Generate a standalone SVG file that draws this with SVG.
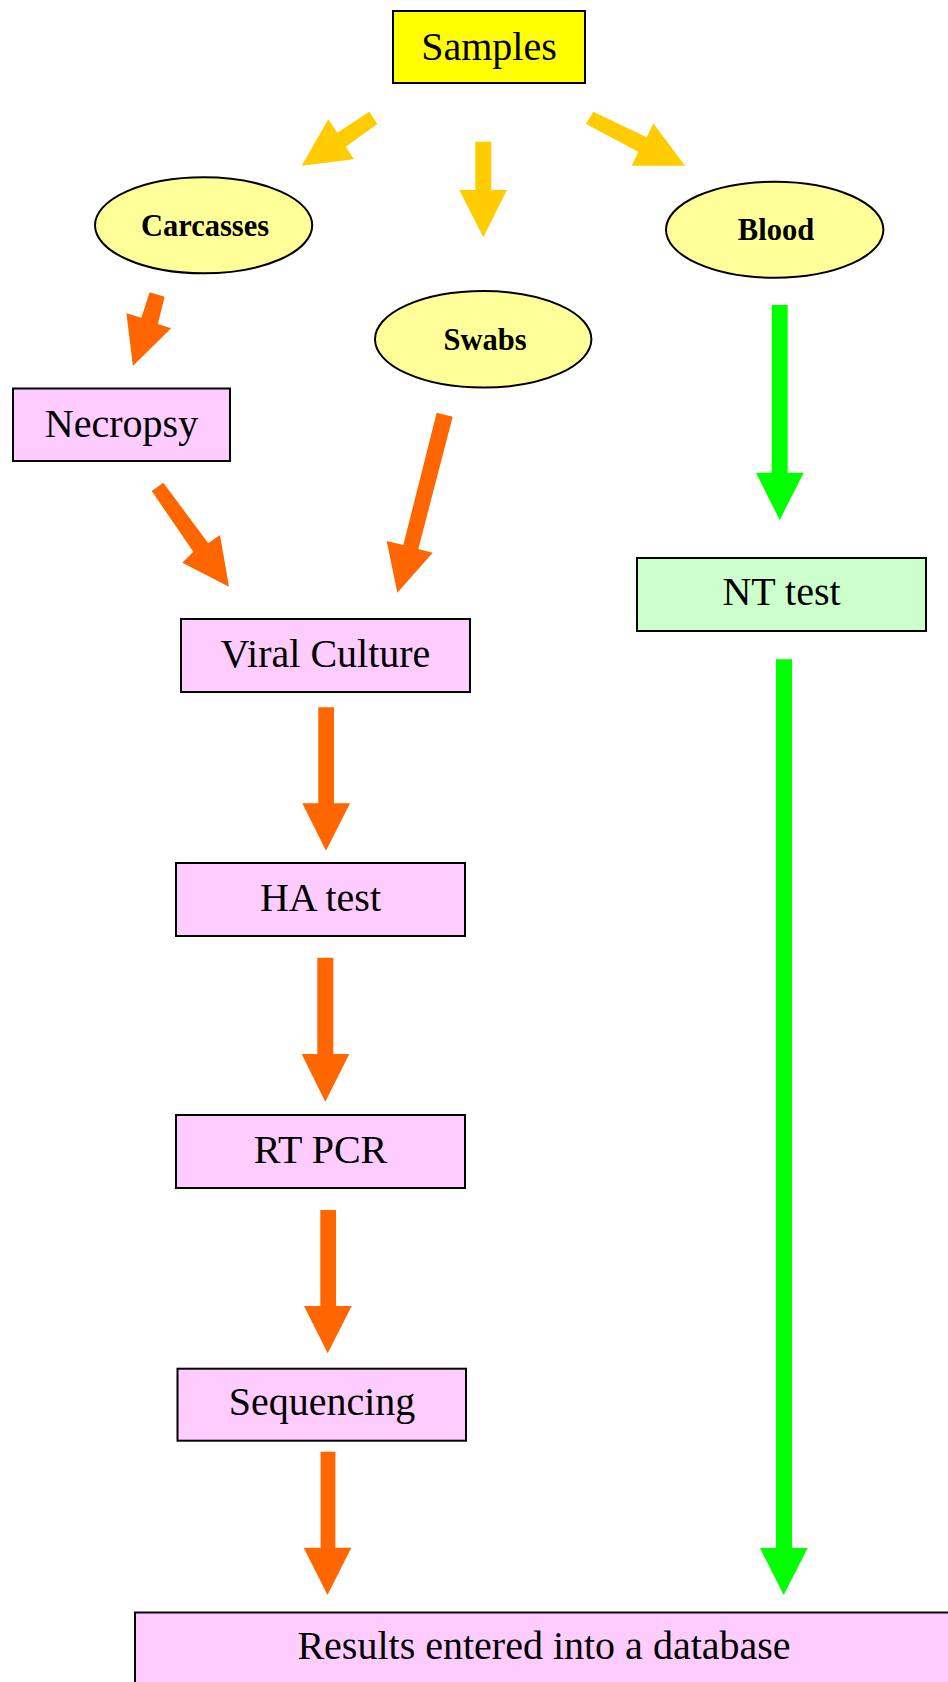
<svg xmlns="http://www.w3.org/2000/svg" width="948" height="1682" viewBox="0 0 948 1682">
  <style>
    .box { stroke: #000; stroke-width: 2; }
    .src { fill: #FFFF00; }
    .sample { fill: #FFFF99; }
    .lab { fill: #FFCCFF; }
    .sero { fill: #CCFFCC; }
    .t { font-family: "Liberation Serif", "Times New Roman", serif; font-size: 40px; fill: #000; text-anchor: middle; }
    .tb { font-family: "Liberation Serif", "Times New Roman", serif; font-size: 30.5px; font-weight: bold; fill: #000; text-anchor: middle; }
    .ay { fill: #FFCC00; }
    .ao { fill: #FF6600; }
    .ag { fill: #00FF00; }
  </style>
  <rect width="948" height="1682" fill="#FFFFFF"/>

  <!-- connectors: block arrows -->
  <g id="connectors">
    <!-- Samples to the three sample types -->
    <polygon class="ay" points="369.3,111.7 377.3,124 345.7,146.7 354,159.3 301.7,165.7 328.3,119.3 337.3,132.7"/>
    <polygon class="ay" points="475.3,141.7 491.3,141.7 491.3,190 507,190 483.3,237.3 459.3,190 475.3,190"/>
    <polygon class="ay" points="593.3,111.7 646.7,137.3 653.3,123.3 685,165.7 631.7,165.7 638.3,151.7 586,124"/>
    <!-- virology branch -->
    <polygon class="ao" points="149.6,292.3 164.6,296.7 157.9,324 171.1,328.3 132.9,366 126.4,313.3 141.4,317.7"/>
    <polygon class="ao" points="163.3,482.7 208.3,543.3 220,535 229,586.7 182.3,562.7 193.3,551.7 151.7,491"/>
    <polygon class="ao" points="436.7,412.7 452.7,416.7 418.3,549 432.7,552.7 397.3,592.7 386.7,541 403.3,545"/>
    <polygon class="ao" points="318.3,707.3 334,707.3 334,803.3 350,803.3 326,850.7 302.3,803.3 318.3,803.3"/>
    <polygon class="ao" points="317.3,957.7 333.3,957.7 333.3,1054 349.3,1054 325.3,1101.7 301.7,1054 317.3,1054"/>
    <polygon class="ao" points="320.3,1210 336,1210 336,1306 351.7,1306 327.7,1353.3 304,1306 320.3,1306"/>
    <polygon class="ao" points="320.6,1451.7 335.4,1451.7 335.4,1547.7 351.3,1547.7 327.5,1595 303.7,1547.7 320.6,1547.7"/>
    <!-- serology branch -->
    <polygon class="ag" points="771.7,305 787.7,305 787.7,472.7 803.7,472.7 779.7,520 756,472.7 771.7,472.7"/>
    <polygon class="ag" points="776,659.3 792,659.3 792,1548 807.7,1548 783.7,1595 760,1548 776,1548"/>
  </g>

  <g id="samples">
    <rect class="box src" x="393" y="11" width="192" height="72"/>
    <text class="t" x="489" y="60">Samples</text>
  </g>

  <g id="carcasses">
    <ellipse class="box sample" cx="203.6" cy="225.3" rx="108.6" ry="48" stroke-width="1.5"/>
    <text class="tb" x="205" y="235.5">Carcasses</text>
  </g>

  <g id="swabs">
    <ellipse class="box sample" cx="483.2" cy="339.3" rx="108.2" ry="48.3" stroke-width="1.5"/>
    <text class="tb" x="485" y="349.5">Swabs</text>
  </g>

  <g id="blood">
    <ellipse class="box sample" cx="774.7" cy="229.7" rx="108.7" ry="48" stroke-width="1.5"/>
    <text class="tb" x="776" y="239.5">Blood</text>
  </g>

  <g id="necropsy">
    <rect class="box lab" x="13" y="388.5" width="217" height="72.5"/>
    <text class="t" x="121.5" y="437.3">Necropsy</text>
  </g>

  <g id="viral-culture">
    <rect class="box lab" x="181" y="619" width="289" height="73"/>
    <text class="t" x="325.5" y="666.7">Viral Culture</text>
  </g>

  <g id="nt-test">
    <rect class="box sero" x="637" y="558" width="289" height="73"/>
    <text class="t" x="781.5" y="605">NT test</text>
  </g>

  <g id="ha-test">
    <rect class="box lab" x="176" y="863" width="289" height="73"/>
    <text class="t" x="320.5" y="911">HA test</text>
  </g>

  <g id="rt-pcr">
    <rect class="box lab" x="176" y="1115" width="289" height="73"/>
    <text class="t" x="320.5" y="1163.3">RT PCR</text>
  </g>

  <g id="sequencing">
    <rect class="box lab" x="177.5" y="1368.7" width="288.5" height="72"/>
    <text class="t" x="322" y="1415">Sequencing</text>
  </g>

  <g id="results">
    <rect class="box lab" x="135" y="1612.5" width="830" height="90"/>
    <text class="t" x="544" y="1659.3">Results entered into a database</text>
  </g>
</svg>
